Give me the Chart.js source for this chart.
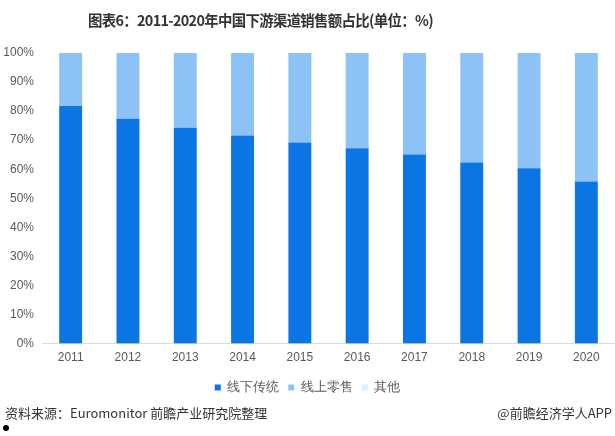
<!DOCTYPE html>
<html>
<head>
<meta charset="utf-8">
<script src="https://cdn.jsdelivr.net/npm/chart.js@4"></script>
<style>
  body { margin: 0; background: #fff; font-family: "Noto Sans CJK SC", "Noto Sans", sans-serif; }
  #wrap { position: relative; width: 615px; height: 436px; overflow: hidden; }
  #title { position: absolute; left: 88px; top: 9px; font-size: 15px; font-weight: bold; color: #333; white-space: nowrap; letter-spacing: -0.7px; transform: scaleX(0.96); transform-origin: left center; }
  #box { position: absolute; left: 0; top: 0; width: 615px; height: 408px; }
  #source { position: absolute; left: 5px; top: 403px; font-size: 13px; color: #333; }
  #credit { position: absolute; right: 3px; top: 403px; font-size: 13px; color: #333; }
  #dot { position: absolute; left: 3px; top: 425px; width: 6px; height: 6px; border-radius: 50%; background: #000; }
</style>
</head>
<body>
<div id="wrap">
  <div id="box"><canvas id="myChart"></canvas></div>
  <div id="title">图表6：2011-2020年中国下游渠道销售额占比(单位：%)</div>
  <div id="source">资料来源：Euromonitor 前瞻产业研究院整理</div>
  <div id="credit">@前瞻经济学人APP</div>
  <div id="dot"></div>
</div>
<script>
// values (percent)
const years = ['2011', '2012', '2013', '2014', '2015', '2016', '2017', '2018', '2019', '2020'];
const offline = [81.8, 77.4, 74.3, 71.6, 69.2, 67.2, 65.1, 62.3, 60.3, 55.8];
const online = [18.2, 22.6, 25.7, 28.4, 30.8, 32.8, 34.9, 37.7, 39.7, 44.2];
const others = [0, 0, 0, 0, 0, 0, 0, 0, 0, 0];
const yTicks = [0, 10, 20, 30, 40, 50, 60, 70, 80, 90, 100];

const ctx = document.getElementById('myChart').getContext('2d');
new Chart(ctx, {
    type: 'bar',
    data: {
        labels: years,
        datasets: [
            { label: '线下传统', data: offline, backgroundColor: '#0B76E3' },
            { label: '线上零售', data: online, backgroundColor: '#8DC2F6' },
            { label: '其他', data: others, backgroundColor: '#DDEDFB' }
        ]
    },
    options: {
        responsive: true,
        maintainAspectRatio: false,
        animation: false,
        datasets: { bar: { barPercentage: 0.4, categoryPercentage: 1 } },
        layout: { padding: { top: 53, right: 0, left: 0, bottom: 4 } },
        scales: {
            x: {
                stacked: true,
                grid: { display: false, drawTicks: false },
                border: { color: '#d9d9d9' },
                ticks: { color: '#595959', font: { size: 12 }, padding: 7 }
            },
            y: {
                stacked: true,
                min: 0,
                max: 100,
                afterBuildTicks: axis => { axis.ticks = yTicks.map(v => ({ value: v })); },
                afterFit: axis => { axis.width = 42; },
                grid: { display: false, drawTicks: false },
                border: { display: false },
                ticks: {
                    color: '#595959',
                    font: { size: 12 },
                    padding: 8,
                    callback: v => v + '%'
                }
            }
        },
        plugins: {
            legend: {
                position: 'bottom',
                labels: {
                    boxWidth: 6,
                    boxHeight: 6,
                    padding: 9,
                    color: '#595959',
                    font: { size: 13 }
                }
            },
            tooltip: { enabled: false }
        }
    }
});
</script>
</body>
</html>
